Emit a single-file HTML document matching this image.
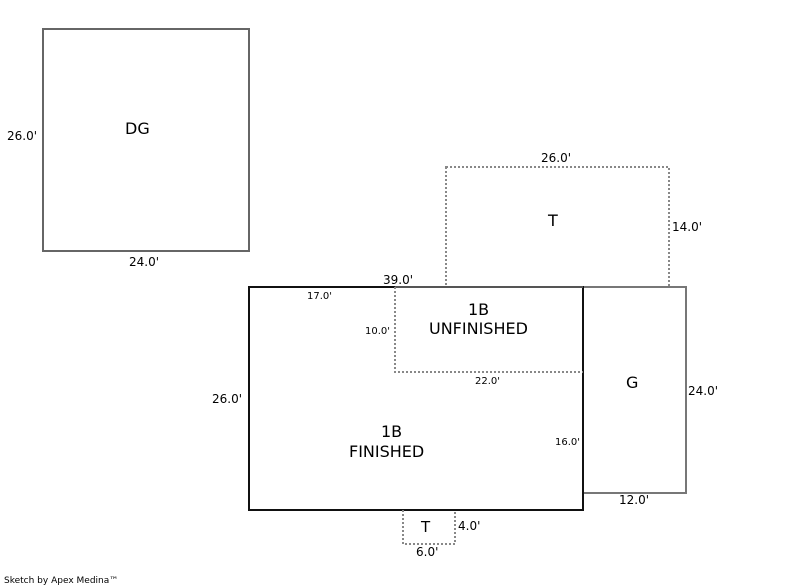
<!DOCTYPE html>
<html><head><meta charset="utf-8"><style>
html,body{margin:0;padding:0;background:#fff;}
svg{display:block;}
text{font-family:"DejaVu Sans","Liberation Sans",sans-serif;fill:#000;}
</style></head><body>
<svg width="800" height="587" viewBox="0 0 800 587" xmlns="http://www.w3.org/2000/svg">
<rect width="800" height="587" fill="#fff"/>
<rect x="43" y="29" width="206" height="222" fill="none" stroke="#666" stroke-width="2"/>
<rect x="446" y="167" width="223" height="120" fill="none" stroke="#888" stroke-width="2" stroke-dasharray="2,2"/>
<rect x="583" y="287" width="103" height="206" fill="none" stroke="#777" stroke-width="2"/>
<rect x="249" y="287" width="334" height="223" fill="none" stroke="#111" stroke-width="2"/>
<line x1="395" y1="287" x2="583" y2="287" stroke="#555" stroke-width="2"/>
<polyline points="395,287 395,372 583,372" fill="none" stroke="#888" stroke-width="2" stroke-dasharray="2,2"/>
<polyline points="403,510 403,544 455,544 455,510" fill="none" stroke="#888" stroke-width="2" stroke-dasharray="2,2"/>

<g font-size="12">
<text x="7" y="140">26.0'</text>
<text x="129" y="266">24.0'</text>
<text x="541" y="162">26.0'</text>
<text x="672" y="231">14.0'</text>
<text x="383" y="284">39.0'</text>
<text x="212" y="403">26.0'</text>
<text x="688" y="395">24.0'</text>
<text x="619" y="504">12.0'</text>
<text x="458" y="530">4.0'</text>
<text x="416" y="556">6.0'</text>
</g>
<g font-size="10">
<text x="307" y="299">17.0'</text>
<text x="365" y="334">10.0'</text>
<text x="475" y="384">22.0'</text>
<text x="555" y="445">16.0'</text>
</g>
<g font-size="16">
<text x="125" y="134">DG</text>
<text x="548" y="226">T</text>
<text x="626" y="388">G</text>
<text x="381" y="437">1B</text>
<text x="349" y="457">FINISHED</text>
<text x="468" y="315">1B</text>
<text x="429" y="334">UNFINISHED</text>
<text x="421" y="532" font-size="15">T</text>
</g>
<text x="4" y="583" font-size="9">Sketch by Apex Medina™</text>
</svg>
</body></html>
